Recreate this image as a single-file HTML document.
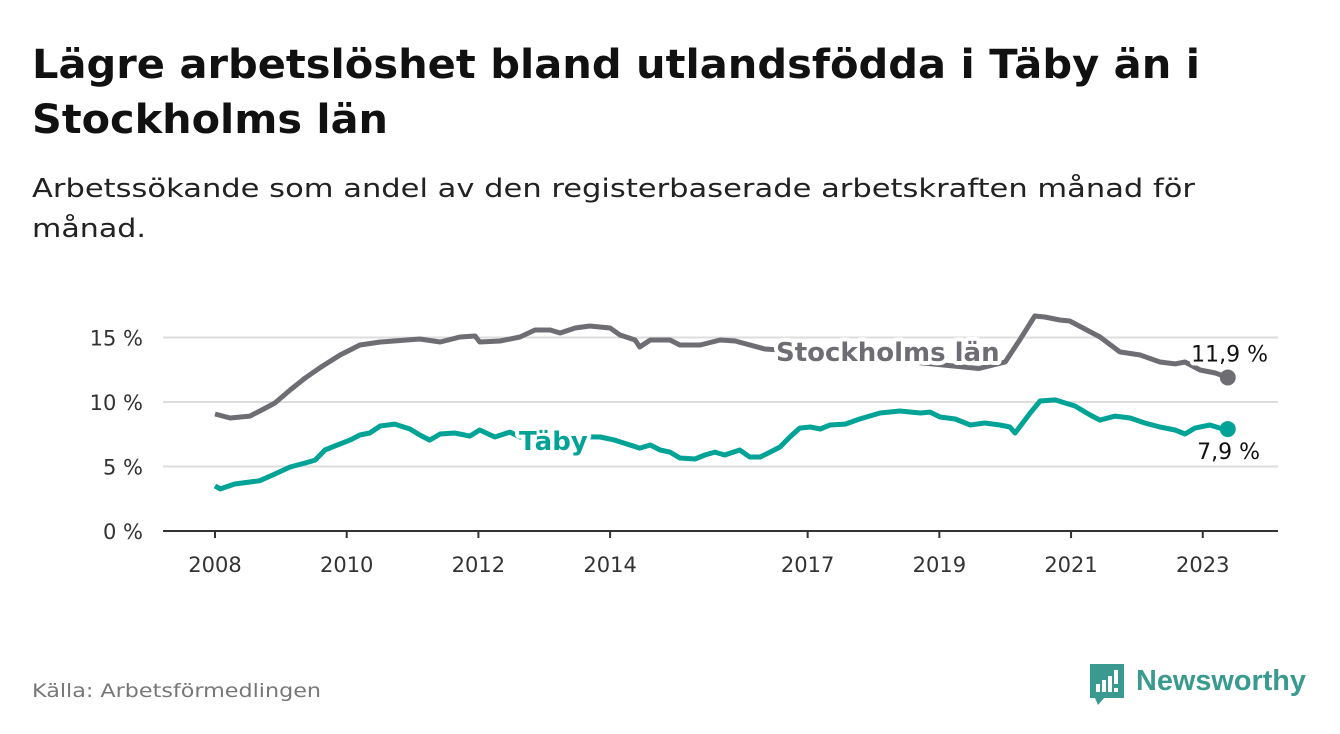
<!DOCTYPE html>
<html><head><meta charset="utf-8"><style>
body{margin:0;background:#fff;width:1340px;height:734px;overflow:hidden;font-family:"DejaVu Sans","Liberation Sans",sans-serif;}
svg{position:absolute;left:0;top:0}
</style></head><body>
<svg width="1340" height="734" id="chart">
<text x="32" y="78" font-size="40" font-weight="bold" fill="#111" textLength="1168" lengthAdjust="spacingAndGlyphs">Lägre arbetslöshet bland utlandsfödda i Täby än i</text>
<text x="32" y="133" font-size="40" font-weight="bold" fill="#111" textLength="356" lengthAdjust="spacingAndGlyphs">Stockholms län</text>
<text x="32" y="197" font-size="26" fill="#222" textLength="1163" lengthAdjust="spacingAndGlyphs">Arbetssökande som andel av den registerbaserade arbetskraften månad för</text>
<text x="32" y="237" font-size="26" fill="#222" textLength="114" lengthAdjust="spacingAndGlyphs">månad.</text>
<g id="grid"></g><g id="lines"></g><g id="labels"></g>
<text x="32" y="697" font-size="19" fill="#777" textLength="289" lengthAdjust="spacingAndGlyphs">Källa: Arbetsförmedlingen</text>
<g>
<path d="M1090 664 h34 v34 h-20 l-6 7 l-3 -7 h-5 z" fill="#3a9a8f"/>
<rect x="1096" y="684" width="4" height="8" fill="#fff"/><rect x="1102" y="680" width="4" height="12" fill="#fff"/><rect x="1108" y="676" width="4" height="16" fill="#fff"/><rect x="1114" y="670" width="4" height="14" fill="#fff"/><rect x="1114" y="688" width="4" height="4" fill="#fff"/>
<text x="1136" y="690" font-size="29" font-weight="bold" fill="#3a9a8f" textLength="170" lengthAdjust="spacingAndGlyphs" font-family="Liberation Sans, sans-serif">Newsworthy</text>
</g>
</svg>
<script>
const yTicks=[0,5,10,15];
const xTicks=[2008,2010,2012,2014,2017,2019,2021,2023];
const stoT=[2008.0,2008.23,2008.53,2008.71,2008.91,2009.14,2009.37,2009.59,2009.9,2010.2,2010.51,2011.11,2011.42,2011.72,2011.95,2012.02,2012.33,2012.63,2012.86,2013.09,2013.24,2013.47,2013.69,2014.0,2014.15,2014.38,2014.45,2014.61,2014.91,2015.06,2015.37,2015.67,2015.9,2016.35,2017.0,2018.0,2019.0,2019.6,2020.0,2020.22,2020.45,2020.6,2020.83,2020.98,2021.21,2021.44,2021.74,2022.05,2022.35,2022.58,2022.73,2022.96,2023.19,2023.38];
const stoV=[9.07,8.76,8.91,9.38,9.92,10.93,11.86,12.64,13.64,14.42,14.65,14.88,14.65,15.04,15.12,14.65,14.73,15.04,15.58,15.58,15.35,15.74,15.89,15.74,15.19,14.81,14.26,14.81,14.81,14.42,14.42,14.81,14.73,14.11,13.9,13.4,12.9,12.6,13.1,14.81,16.67,16.59,16.36,16.28,15.66,15.04,13.88,13.64,13.1,12.95,13.1,12.48,12.25,11.9];
const tabT=[2008.0,2008.08,2008.3,2008.53,2008.68,2008.91,2009.14,2009.37,2009.52,2009.67,2009.82,2010.05,2010.2,2010.35,2010.51,2010.73,2010.96,2011.11,2011.26,2011.42,2011.64,2011.87,2012.02,2012.25,2012.48,2012.63,2013.0,2013.5,2013.85,2014.07,2014.3,2014.45,2014.61,2014.76,2014.91,2015.06,2015.29,2015.44,2015.59,2015.74,2015.97,2016.12,2016.28,2016.43,2016.58,2016.73,2016.88,2017.04,2017.19,2017.34,2017.57,2017.79,2018.1,2018.4,2018.71,2018.86,2019.01,2019.24,2019.47,2019.69,2019.92,2020.07,2020.15,2020.38,2020.53,2020.76,2020.91,2021.06,2021.29,2021.44,2021.67,2021.9,2022.12,2022.35,2022.58,2022.73,2022.88,2023.11,2023.26,2023.38];
const tabV=[3.5,3.26,3.64,3.8,3.9,4.42,4.96,5.27,5.5,6.28,6.59,7.05,7.44,7.6,8.14,8.29,7.91,7.44,7.05,7.52,7.6,7.36,7.83,7.29,7.67,7.29,7.2,7.3,7.29,7.05,6.67,6.43,6.67,6.28,6.12,5.66,5.58,5.89,6.12,5.89,6.28,5.74,5.74,6.12,6.51,7.29,7.98,8.06,7.91,8.22,8.29,8.68,9.15,9.3,9.15,9.22,8.84,8.68,8.22,8.37,8.22,8.06,7.6,9.15,10.08,10.16,9.92,9.69,8.99,8.6,8.91,8.76,8.37,8.06,7.83,7.52,7.98,8.22,7.98,7.9];
const X=t=>215+(t-2008)*65.85, Y=v=>531-v*12.9;
const NS="http://www.w3.org/2000/svg";
function mk(tag,attrs,parent,txt){const e=document.createElementNS(NS,tag);for(const k in attrs)e.setAttribute(k,attrs[k]);if(txt!==undefined)e.textContent=txt;document.getElementById(parent).appendChild(e);return e;}
yTicks.forEach(v=>{
 if(v>0){const g=mk('line',{x1:163,x2:1278,y1:Y(v),y2:Y(v),stroke:'#ddd','stroke-width':2},'grid');
 
 }
 const t=mk('text',{x:143,y:Y(v)+8,'font-size':21,fill:'#333','text-anchor':'end'},'grid',v+' %');
 
 
});
const ax=mk('line',{x1:163,x2:1278,y1:531,y2:531,stroke:'#333','stroke-width':2},'grid');


xTicks.forEach(y=>{
 const tk=mk('line',{x1:X(y),x2:X(y),y1:531,y2:538,stroke:'#333','stroke-width':2},'grid');
 
 
 const t=mk('text',{x:X(y),y:572,'font-size':21,fill:'#333','text-anchor':'middle'},'grid',String(y));
 
 
});
function line(T,V,col,name){
 const d=T.map((t,i)=>(i?'L':'M')+X(t).toFixed(1)+' '+Y(V[i]).toFixed(1)).join(' ');
 const p=mk('path',{d:d,fill:'none',stroke:col,'stroke-width':5,'stroke-linejoin':'round'},'lines');
 
 
 const n=T.length-1;
 const c=mk('circle',{cx:X(T[n]),cy:Y(V[n]),r:8,fill:col},'lines');
 
 
}
line(stoT,stoV,'#6e6d73','stockholm');
line(tabT,tabV,'#00a396','taby');
function lab(x,y,txt,col,name,bold,anchor){
 const t=mk('text',{x:x,y:y,'font-size':bold?26:22,'font-weight':bold?'bold':'normal',fill:col,'text-anchor':anchor||'start',stroke:'#fff','stroke-width':8,'paint-order':'stroke','stroke-linejoin':'round'},'labels',txt);
 
 
}
lab(776,361,'Stockholms län','#6e6d73','stockholm-label',true);
lab(519,450,'Täby','#00a396','taby-label',true);
const n1=stoT.length-1,n2=tabT.length-1;
lab(1268,Y(stoV[n1])-16,'11,9 %','#111','stockholm-end-value',false,'end');
lab(1260,Y(tabV[n2])+30,'7,9 %','#111','taby-end-value',false,'end');
</script>
</body></html>
